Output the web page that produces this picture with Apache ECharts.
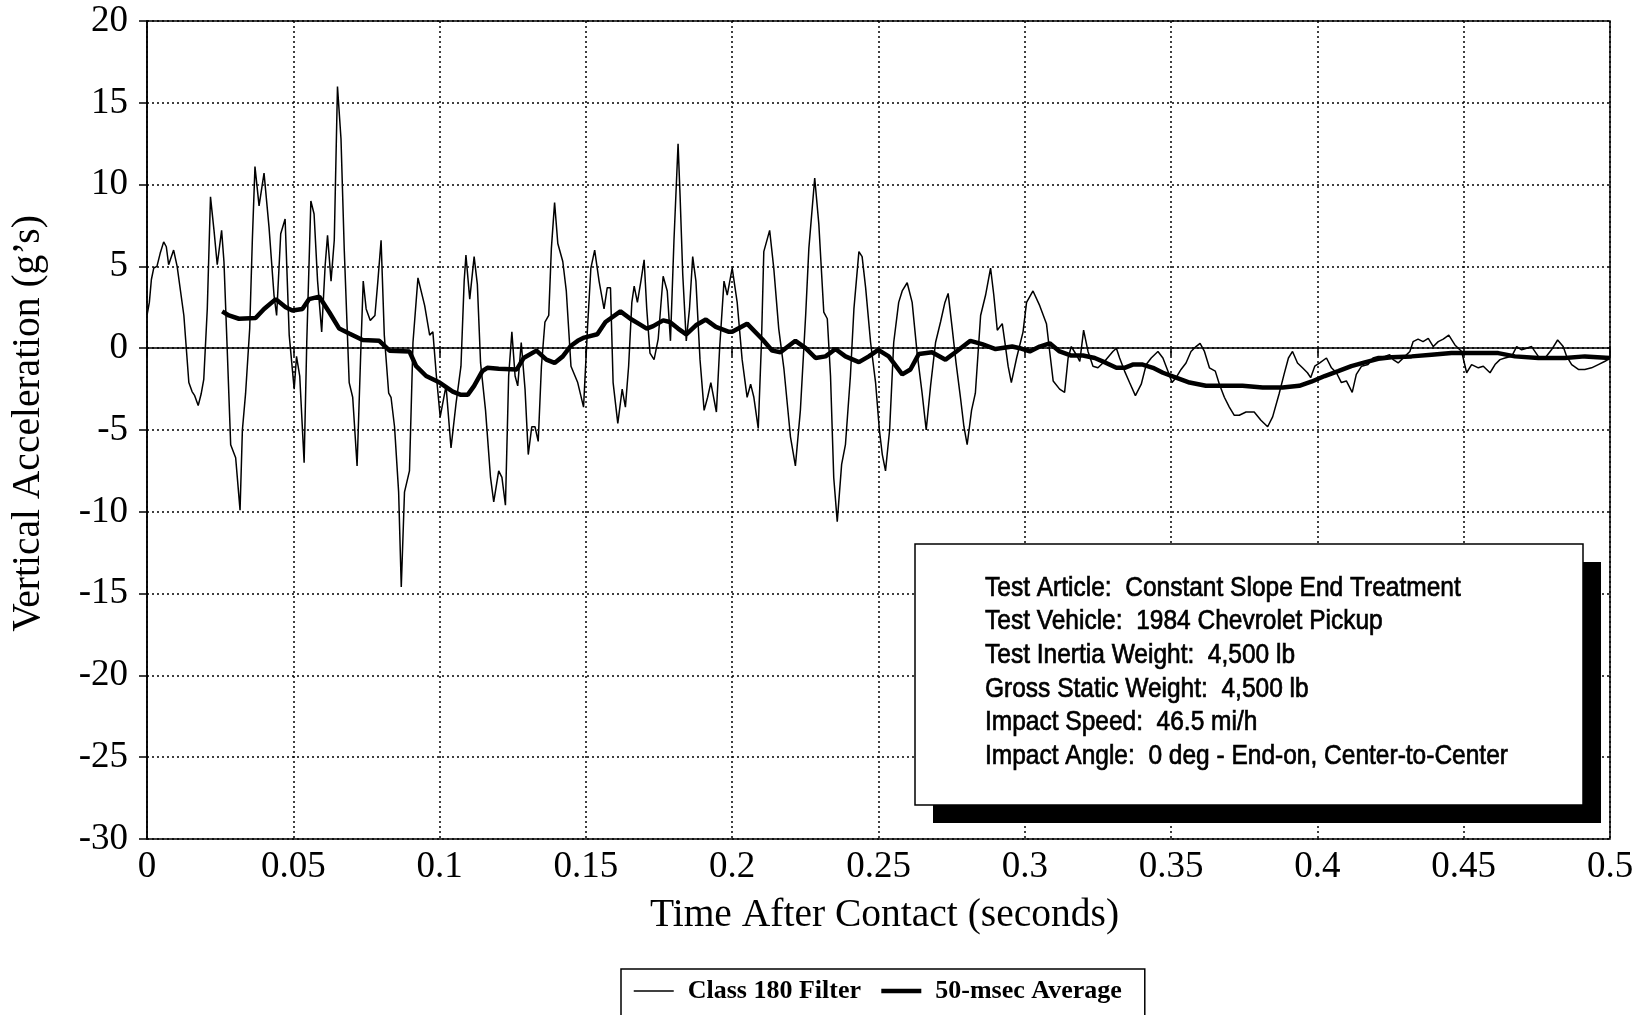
<!DOCTYPE html>
<html>
<head>
<meta charset="utf-8">
<script src="https://cdn.jsdelivr.net/npm/echarts@6/dist/echarts.min.js"></script>
<style>
  html, body { margin: 0; padding: 0; background: #fff; }
  #chart { width: 1650px; height: 1015px; }
</style>
</head>
<body>
<div id="chart"></div>
<script>
// Class 180 filtered vertical acceleration trace: time (s) and acceleration (g's)
const filterTime = [
  0.0000,0.0008,0.0015,0.0023,0.0034,0.0045,0.0057,0.0066,0.0074,0.0091,0.0103,0.0126,0.0143,0.0154,0.0163,0.0175,0.0185,0.0194,
  0.0206,0.0217,0.0229,0.0240,0.0255,0.0263,0.0274,0.0286,0.0303,0.0318,0.0326,0.0337,0.0351,0.0360,0.0369,0.0383,0.0400,0.0417,
  0.0434,0.0443,0.0457,0.0472,0.0486,0.0503,0.0511,0.0522,0.0537,0.0546,0.0560,0.0571,0.0583,0.0597,0.0609,0.0617,0.0629,0.0640,
  0.0651,0.0663,0.0674,0.0691,0.0703,0.0718,0.0731,0.0739,0.0749,0.0763,0.0779,0.0789,0.0800,0.0811,0.0826,0.0834,0.0846,0.0860,
  0.0869,0.0880,0.0897,0.0909,0.0926,0.0949,0.0966,0.0977,0.0989,0.1002,0.1022,0.1039,0.1056,0.1073,0.1084,0.1090,0.1103,0.1118,
  0.1129,0.1140,0.1157,0.1174,0.1185,0.1202,0.1213,0.1225,0.1236,0.1247,0.1258,0.1267,0.1279,0.1292,0.1303,0.1315,0.1326,0.1337,
  0.1348,0.1360,0.1373,0.1382,0.1393,0.1404,0.1421,0.1433,0.1449,0.1472,0.1492,0.1506,0.1517,0.1530,0.1545,0.1562,0.1573,0.1584,
  0.1593,0.1609,0.1624,0.1635,0.1646,0.1657,0.1665,0.1676,0.1688,0.1699,0.1708,0.1719,0.1733,0.1747,0.1764,0.1778,0.1789,0.1801,
  0.1815,0.1822,0.1831,0.1843,0.1854,0.1865,0.1876,0.1890,0.1904,0.1916,0.1927,0.1946,0.1957,0.1972,0.1983,0.2000,0.2017,0.2034,
  0.2051,0.2063,0.2074,0.2089,0.2100,0.2108,0.2128,0.2142,0.2159,0.2177,0.2199,0.2216,0.2233,0.2251,0.2262,0.2282,0.2296,0.2313,
  0.2325,0.2336,0.2347,0.2359,0.2374,0.2387,0.2404,0.2416,0.2433,0.2444,0.2456,0.2473,0.2490,0.2503,0.2513,0.2524,0.2538,0.2552,
  0.2569,0.2581,0.2598,0.2615,0.2632,0.2649,0.2663,0.2678,0.2695,0.2712,0.2727,0.2738,0.2752,0.2765,0.2780,0.2792,0.2803,0.2818,
  0.2831,0.2849,0.2866,0.2883,0.2894,0.2906,0.2923,0.2932,0.2943,0.2954,0.2972,0.2994,0.3006,0.3028,0.3051,0.3074,0.3085,0.3097,
  0.3119,0.3136,0.3148,0.3159,0.3176,0.3188,0.3201,0.3216,0.3233,0.3250,0.3273,0.3301,0.3313,0.3324,0.3341,0.3358,0.3378,0.3398,
  0.3415,0.3432,0.3455,0.3472,0.3489,0.3503,0.3517,0.3534,0.3551,0.3568,0.3585,0.3599,0.3614,0.3631,0.3651,0.3665,0.3682,0.3699,
  0.3716,0.3733,0.3756,0.3784,0.3807,0.3830,0.3847,0.3869,0.3886,0.3901,0.3915,0.3932,0.3949,0.3966,0.3977,0.3991,0.4008,0.4031,
  0.4048,0.4065,0.4082,0.4099,0.4119,0.4133,0.4151,0.4173,0.4190,0.4208,0.4230,0.4247,0.4259,0.4276,0.4299,0.4316,0.4327,0.4344,
  0.4361,0.4379,0.4396,0.4413,0.4430,0.4449,0.4470,0.4493,0.4510,0.4527,0.4550,0.4567,0.4590,0.4607,0.4624,0.4641,0.4664,0.4681,
  0.4698,0.4715,0.4732,0.4755,0.4778,0.4800,0.4821,0.4840,0.4852,0.4869,0.4892,0.4914,0.4937,0.4960,0.4983,0.5000
];
const filterAccel = [
  2.0,2.8,4.2,4.9,5.0,5.8,6.5,6.2,5.1,6.0,5.0,2.0,-2.1,-2.65,-2.9,-3.5,-2.8,-1.9,
  2.4,9.25,7.2,5.1,7.2,5.3,0.0,-5.9,-6.7,-9.9,-5.0,-2.75,1.2,6.6,11.1,8.7,10.7,7.4,
  3.25,2.0,7.0,7.9,0.8,-2.5,-0.5,-1.7,-7.0,0.35,9.0,8.2,4.1,1.0,5.1,6.9,4.1,6.6,
  16.0,12.8,6.1,-2.1,-3.0,-7.2,0.0,4.1,2.4,1.7,2.0,4.1,6.6,0.8,-2.75,-3.0,-4.8,-8.8,
  -14.6,-8.8,-7.5,0.35,4.3,2.6,0.8,1.0,-1.7,-4.2,-2.3,-6.1,-3.4,-1.1,4.1,5.7,3.0,5.6,
  3.9,-0.9,-3.8,-7.9,-9.4,-7.5,-7.9,-9.6,-1.7,1.0,-1.7,-2.3,0.35,-2.5,-6.5,-4.8,-4.8,-5.7,
  -1.1,1.6,2.0,6.1,8.9,6.4,5.3,3.5,-1.1,-2.1,-3.6,1.4,4.9,6.0,4.1,2.4,3.7,3.7,
  -2.1,-4.6,-2.5,-3.6,-1.1,2.8,3.8,2.8,4.1,5.4,2.4,-0.3,-0.7,0.55,4.4,3.5,0.45,6.6,
  12.5,9.25,4.5,0.45,2.4,5.6,4.1,-0.7,-3.8,-3.0,-2.1,-3.9,0.0,4.1,3.25,4.9,2.8,-0.7,
  -3.0,-2.2,-3.0,-4.9,0.35,5.9,7.2,4.9,1.2,-1.3,-5.4,-7.2,-3.8,2.0,6.1,10.4,7.6,2.2,
  1.8,-1.7,-7.9,-10.6,-7.1,-5.9,-1.7,2.4,5.9,5.6,3.7,0.35,-2.1,-5.0,-6.5,-7.5,-5.0,0.35,
  2.8,3.5,4.0,2.8,-0.3,-2.75,-5.0,-2.3,0.35,1.6,2.8,3.35,1.2,-0.9,-3.0,-4.8,-5.9,-3.8,
  -2.75,2.0,3.25,4.9,3.25,1.1,1.5,0.35,-1.1,-2.1,-0.6,1.0,2.8,3.5,2.6,1.5,-0.2,-2.0,
  -2.5,-2.7,-0.6,0.1,-0.4,-0.8,1.1,-0.2,-1.1,-1.2,-0.8,-0.2,0.0,-0.6,-1.4,-2.1,-2.9,-2.2,
  -1.0,-0.6,-0.2,-0.6,-1.4,-2.1,-1.8,-1.3,-0.9,-0.2,0.1,0.3,-0.2,-1.2,-1.4,-2.2,-3.0,-3.6,
  -4.1,-4.1,-3.9,-3.9,-4.4,-4.8,-4.2,-2.8,-1.6,-0.6,-0.2,-0.9,-1.2,-1.5,-1.8,-1.1,-0.9,-0.6,
  -1.2,-1.5,-2.1,-2.0,-2.7,-1.6,-1.1,-1.0,-0.6,-0.5,-0.5,-0.4,-0.7,-0.9,-0.5,-0.2,0.4,0.55,
  0.4,0.6,0.1,0.4,0.55,0.8,0.2,-0.2,-1.5,-1.0,-1.2,-1.1,-1.5,-1.0,-0.7,-0.6,-0.5,0.1,
  -0.1,0.0,0.1,-0.5,-0.6,-0.1,0.5,0.1,-0.5,-1.0,-1.3,-1.3,-1.2,-1.0,-0.8,-0.6
];

// 50-msec running average
const averageTime = [
  0.0257,0.0280,0.0314,0.0371,0.0400,0.0440,0.0474,0.0497,0.0531,0.0554,0.0589,0.0623,0.0657,0.0691,0.0737,0.0794,0.0829,0.0897,
  0.0920,0.0954,0.1000,0.1045,0.1073,0.1096,0.1118,0.1146,0.1163,0.1202,0.1264,0.1287,0.1331,0.1365,0.1393,0.1421,0.1449,0.1472,
  0.1494,0.1539,0.1567,0.1618,0.1652,0.1680,0.1708,0.1730,0.1764,0.1787,0.1815,0.1843,0.1876,0.1910,0.1944,0.1989,0.2000,0.2051,
  0.2103,0.2137,0.2165,0.2216,0.2251,0.2285,0.2319,0.2353,0.2387,0.2433,0.2467,0.2499,0.2535,0.2581,0.2609,0.2638,0.2683,0.2729,
  0.2763,0.2814,0.2854,0.2900,0.2957,0.2983,0.3017,0.3051,0.3085,0.3119,0.3159,0.3199,0.3239,0.3278,0.3313,0.3341,0.3369,0.3403,
  0.3438,0.3472,0.3517,0.3563,0.3619,0.3676,0.3744,0.3813,0.3881,0.3938,0.3979,0.4025,0.4071,0.4116,0.4162,0.4208,0.4253,0.4322,
  0.4390,0.4458,0.4504,0.4618,0.4675,0.4755,0.4846,0.4914,0.5000
];
const averageAccel = [
  2.25,2.0,1.8,1.85,2.4,3.0,2.5,2.3,2.4,3.0,3.15,2.2,1.2,0.9,0.5,0.45,-0.15,-0.2,
  -1.1,-1.7,-2.1,-2.65,-2.85,-2.85,-2.3,-1.4,-1.2,-1.25,-1.3,-0.6,-0.15,-0.7,-0.9,-0.5,0.15,0.45,
  0.65,0.85,1.6,2.25,1.8,1.5,1.2,1.35,1.7,1.6,1.2,0.85,1.4,1.75,1.3,1.0,1.0,1.5,
  0.55,-0.15,-0.25,0.45,0.0,-0.6,-0.5,-0.05,-0.5,-0.85,-0.5,-0.1,-0.5,-1.6,-1.3,-0.35,-0.25,-0.7,
  -0.25,0.45,0.25,-0.05,0.1,0.0,-0.2,0.1,0.3,-0.2,-0.45,-0.45,-0.6,-0.9,-1.2,-1.2,-1.0,-1.0,
  -1.2,-1.5,-1.8,-2.1,-2.3,-2.3,-2.3,-2.4,-2.4,-2.3,-2.05,-1.7,-1.4,-1.1,-0.87,-0.65,-0.55,-0.5,
  -0.4,-0.3,-0.3,-0.3,-0.5,-0.6,-0.6,-0.5,-0.6
];

const seriesNames = ['Class 180 Filter', '50-msec Average'];

const infoLines = [
  'Test Article:  Constant Slope End Treatment',
  'Test Vehicle:  1984 Chevrolet Pickup',
  'Test Inertia Weight:  4,500 lb',
  'Gross Static Weight:  4,500 lb',
  'Impact Speed:  46.5 mi/h',
  'Impact Angle:  0 deg - End-on, Center-to-Center'
];

const pairs = (xs, ys) => xs.map((x, i) => [x, ys[i]]);

const serif = '"Liberation Serif", "Times New Roman", serif';
const dotted = { color: '#000', width: 1.5, type: [2, 3] };

// Information box with a drop shadow, drawn in a condensed sans face
const boxX = 915, boxY = 544, boxW = 668, boxH = 261, shadow = 18;
const infoGraphics = [
  { type: 'rect', z: 100, shape: { x: boxX + shadow, y: boxY + shadow, width: boxW, height: boxH },
    style: { fill: '#000' } },
  { type: 'rect', z: 101, shape: { x: boxX, y: boxY, width: boxW, height: boxH },
    style: { fill: '#fff', stroke: '#000', lineWidth: 1.5 } }
].concat(infoLines.map((line, i) => ({
  type: 'text', z: 102, x: 985, y: 588 + i * 33.6, scaleX: 0.875,
  style: { text: line, font: '28px "Liberation Sans", Arial, sans-serif', fill: '#000',
           stroke: '#000', lineWidth: 0.7, textVerticalAlign: 'middle' }
})));

const chart = echarts.init(document.getElementById('chart'), null, { renderer: 'canvas' });
chart.setOption({
  backgroundColor: '#fff',
  animation: false,
  grid: { left: 147, right: 40, top: 21, bottom: 176, show: true, borderColor: '#000', borderWidth: 1.5 },
  xAxis: {
    type: 'value', min: 0, max: 0.5, interval: 0.05,
    name: 'Time After Contact (seconds)', nameLocation: 'middle', nameGap: 57,
    nameTextStyle: { fontFamily: serif, fontSize: 39.5, color: '#000', padding: [0, 0, 0, 12] },
    axisLine: { lineStyle: { color: '#000', width: 1.5 } },
    axisTick: { show: true, length: 8, lineStyle: { color: '#000', width: 1.5 } },
    axisLabel: { fontFamily: serif, fontSize: 37, color: '#000', margin: 10 },
    splitLine: { show: true, lineStyle: dotted }
  },
  yAxis: {
    type: 'value', min: -30, max: 20, interval: 5,
    name: 'Vertical Acceleration (g\u2019s)', nameLocation: 'middle', nameGap: 98, nameRotate: 90,
    nameTextStyle: { fontFamily: serif, fontSize: 39.5, color: '#000', padding: [0, 0, 0, 13] },
    axisLine: { show: true, lineStyle: { color: '#000', width: 1.5 } },
    axisTick: { show: true, length: 8, lineStyle: { color: '#000', width: 1.5 } },
    axisLabel: { fontFamily: serif, fontSize: 37, color: '#000', margin: 19 },
    splitLine: { show: true, lineStyle: dotted }
  },
  legend: {
    left: 621, top: 969, orient: 'horizontal',
    borderColor: '#000', borderWidth: 1.5, padding: [9, 23, 30, 12],
    itemWidth: 40, itemHeight: 20, itemGap: 18,
    textStyle: { fontFamily: serif, fontWeight: 'bold', fontSize: 26, color: '#000', padding: [0, 0, 0, 9] },
    data: [
      { name: seriesNames[0], lineStyle: { width: 1.5, color: '#000' }, itemStyle: { opacity: 0 } },
      { name: seriesNames[1], lineStyle: { width: 4.5, color: '#000' }, itemStyle: { opacity: 0 } }
    ]
  },
  series: [
    {
      name: seriesNames[0], type: 'line', symbol: 'none', showSymbol: false,
      data: pairs(filterTime, filterAccel),
      lineStyle: { color: '#000', width: 1.5 }, itemStyle: { color: '#000' }, z: 3
    },
    {
      name: seriesNames[1], type: 'line', symbol: 'none', showSymbol: false,
      data: pairs(averageTime, averageAccel),
      lineStyle: { color: '#000', width: 4.5 }, itemStyle: { color: '#000' }, z: 4
    }
  ],
  graphic: infoGraphics
});
</script>
</body>
</html>
